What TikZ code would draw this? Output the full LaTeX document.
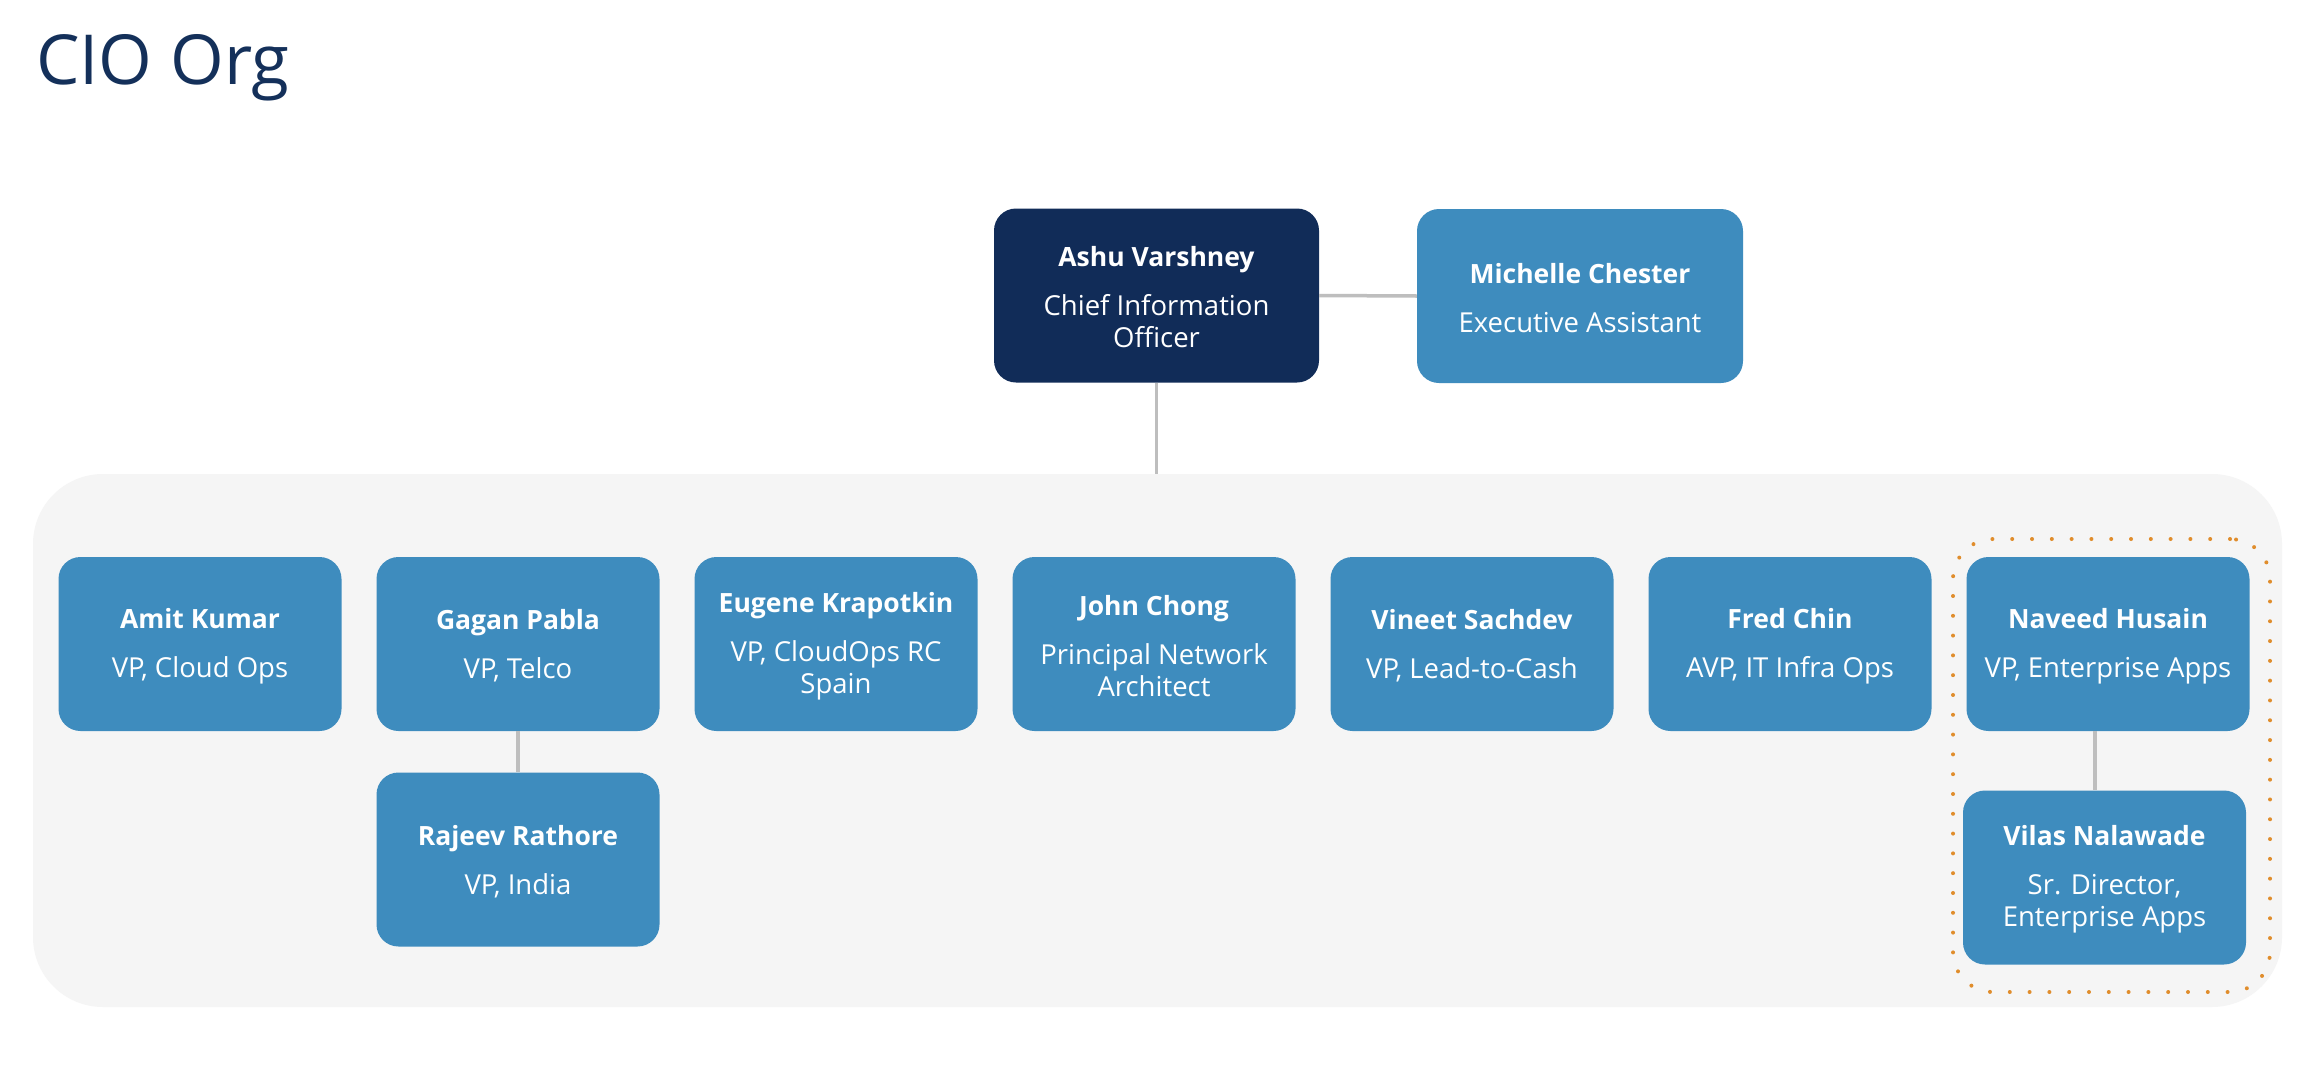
\documentclass[tikz,border=0pt]{standalone}
\usepackage{fontspec}
\setmainfont{Open Sans}
\definecolor{boxblue}{HTML}{3E8CBE}
\definecolor{navy}{HTML}{112C58}
\definecolor{titlenavy}{HTML}{14305A}
\definecolor{bandgray}{HTML}{F5F5F5}
\definecolor{linegray}{HTML}{BEBEBE}
\definecolor{dotorange}{HTML}{E08D2C}
\newcommand{\nm}[1]{\rule{0pt}{24pt}{\fontsize{26.5}{32}\selectfont\textbf{#1}}}
\begin{document}
\begin{tikzpicture}[x=1pt,y=-1pt,
  box/.style={rounded corners=22pt, fill=boxblue, text=white, minimum width=283pt,
    minimum height=174pt, align=center, inner sep=0pt,
    font=\fontsize{27.5}{32}\selectfont},
  chief/.style={box, fill=navy, minimum width=325pt},
  conn/.style={draw=linegray, line width=3.5pt},
  bandbox/.style={fill=bandgray, rounded corners=70pt, minimum width=2249pt,
    minimum height=533pt, inner sep=0pt},
  focusbox/.style={draw=dotorange, line width=4pt, line cap=round,
    dash pattern=on 0pt off 19.8pt, rounded corners=40pt, minimum width=317pt,
    minimum height=453pt, inner sep=0pt}]
\useasboundingbox (0,0) rectangle (2316,1082);
\fill[white] (0,0) rectangle (2316,1082);

\node[anchor=base west, inner sep=0pt, text=titlenavy, font=\fontsize{69}{80}\selectfont] (title) at (36,84.5) {CIO Org};

\node[bandbox] (band) at (1157.5,740.5) {};
\node[focusbox] (focus) at (2111.5,765.5) {};

\node[chief] (ashu) at (1156.5,295.5) {\nm{Ashu Varshney}\\[17pt]Chief Information\\Officer};
\node[box, minimum width=326pt] (michelle) at (1580,296) {\nm{Michelle Chester}\\[17pt]Executive Assistant};

\node[box] (amit) at (200,644) {\nm{Amit Kumar}\\[17pt]VP, Cloud Ops};
\node[box] (gagan) at (518,644) {\nm{Gagan Pabla}\\[17pt]VP, Telco};
\node[box] (eugene) at (836,644) {\nm{Eugene Krapotkin}\\[17pt]VP, CloudOps RC\\Spain};
\node[box] (john) at (1154,644) {\nm{John Chong}\\[17pt]Principal Network\\Architect};
\node[box] (vineet) at (1472,644) {\nm{Vineet Sachdev}\\[17pt]VP, Lead-to-Cash};
\node[box] (fred) at (1790,644) {\nm{Fred Chin}\\[17pt]AVP, IT Infra Ops};
\node[box] (naveed) at (2108,644) {\nm{Naveed Husain}\\[17pt]VP, Enterprise Apps};

\node[box] (rajeev) at (518,859.5) {\nm{Rajeev Rathore}\\[17pt]VP, India};
\node[box] (vilas) at (2104.5,877.5) {\nm{Vilas Nalawade}\\[17pt]Sr. Director,\\Enterprise Apps};

\draw[conn] (ashu.east) -- (michelle.west);
\draw[conn] (ashu.south) -- (ashu.south |- band.north);
\draw[conn] (gagan.south) -- (rajeev.north);
\draw[conn] ([xshift=-13pt]naveed.south) -- ([xshift=-9.5pt]vilas.north);
\end{tikzpicture}
\end{document}
